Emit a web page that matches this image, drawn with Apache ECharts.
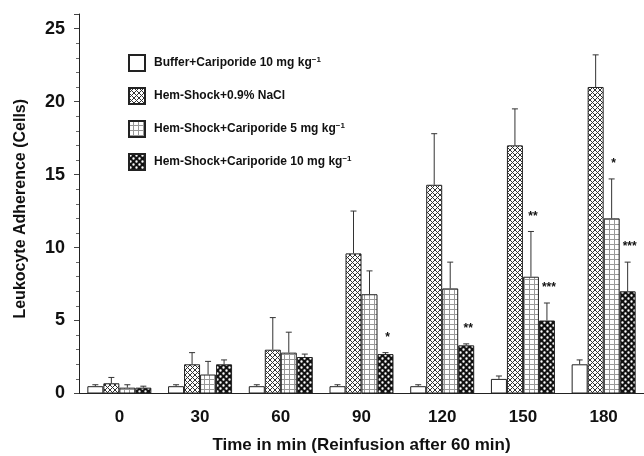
<!DOCTYPE html>
<html>
<head>
<meta charset="utf-8">
<script src="https://cdn.jsdelivr.net/npm/echarts@6/dist/echarts.min.js"></script>
<style>
  html, body { margin: 0; padding: 0; background: #fff; }
  #main { width: 644px; height: 456px; }
</style>
</head>
<body>
<div id="main"></div>
<script>
var categories = ['0', '30', '60', '90', '120', '150', '180'];

var seriesNames = [
  'Buffer+Cariporide 10 mg kg',
  'Hem-Shock+0.9% NaCl',
  'Hem-Shock+Cariporide 5 mg kg',
  'Hem-Shock+Cariporide 10 mg kg'
];

// mean values and top of the error bars
var buffer = [0.5, 0.5, 0.5, 0.5, 0.5, 1.0, 2.0];
var bufferErr = [0.6, 0.6, 0.6, 0.6, 0.6, 1.2, 2.3];
var nacl = [0.7, 2.0, 3.0, 9.6, 14.3, 17.0, 21.0];
var naclErr = [1.1, 2.8, 5.2, 12.5, 17.8, 19.5, 23.2];
var carip5 = [0.4, 1.3, 2.8, 6.8, 7.2, 8.0, 12.0];
var carip5Err = [0.6, 2.2, 4.2, 8.4, 9.0, 11.1, 14.7];
var carip10 = [0.4, 2.0, 2.5, 2.7, 3.3, 5.0, 7.0];
var carip10Err = [0.5, 2.3, 2.7, 2.8, 3.4, 6.2, 9.0];

var sigBuffer = ['', '', '', '', '', '', ''];
var sigNacl = ['', '', '', '', '', '', ''];
var sigCarip5 = ['', '', '', '', '', '**', '*'];
var sigCarip10 = ['', '', '', '*', '**', '***', '***'];

var FONT = 'Liberation Sans';
var BAR_W = 16;

function makePattern(kind) {
  var c = document.createElement('canvas');
  var ctx = c.getContext('2d');
  if (kind === 'white') {
    c.width = 4; c.height = 4;
    ctx.fillStyle = '#fff';
    ctx.fillRect(0, 0, 4, 4);
  } else if (kind === 'cross') {
    c.width = 5; c.height = 5;
    ctx.fillStyle = '#fff';
    ctx.fillRect(0, 0, 5, 5);
    ctx.strokeStyle = '#333';
    ctx.lineWidth = 1;
    ctx.beginPath();
    ctx.moveTo(0, 0); ctx.lineTo(5, 5);
    ctx.moveTo(5, 0); ctx.lineTo(0, 5);
    ctx.stroke();
  } else if (kind === 'grid') {
    c.width = 5; c.height = 5;
    ctx.fillStyle = '#fff';
    ctx.fillRect(0, 0, 5, 5);
    ctx.fillStyle = '#999';
    ctx.fillRect(4, 0, 1, 5);
    ctx.fillRect(0, 4, 5, 1);
  } else {
    c.width = 6; c.height = 6;
    ctx.fillStyle = '#111';
    ctx.fillRect(0, 0, 6, 6);
    ctx.fillStyle = '#fff';
    ctx.beginPath();
    ctx.arc(1.5, 1.5, 1.2, 0, Math.PI * 2);
    ctx.arc(4.5, 4.5, 1.2, 0, Math.PI * 2);
    ctx.fill();
  }
  return { image: c, repeat: 'repeat' };
}

var fills = [makePattern('white'), makePattern('cross'), makePattern('grid'), makePattern('dark')];
var means = [buffer, nacl, carip5, carip10];
var errs = [bufferErr, naclErr, carip5Err, carip10Err];
var sigs = [sigBuffer, sigNacl, sigCarip5, sigCarip10];

function errRender(k) {
  return function (params, api) {
    var i = api.value(0);
    var p0 = api.coord([i, api.value(1)]);
    var p1 = api.coord([i, api.value(2)]);
    var x = p0[0] + (k - 1.5) * BAR_W;
    var children = [
      { type: 'line', shape: { x1: x, y1: p0[1], x2: x, y2: p1[1] },
        style: { stroke: '#333', lineWidth: 1 } },
      { type: 'line', shape: { x1: x - 3, y1: p1[1], x2: x + 3, y2: p1[1] },
        style: { stroke: '#333', lineWidth: 1 } }
    ];
    var s = sigs[k][params.dataIndex];
    if (s) {
      children.push({ type: 'text', x: x + 2, y: p1[1] - 9,
        style: { text: s, fill: '#111', font: 'bold 12px ' + FONT,
          align: 'center', verticalAlign: 'bottom' } });
    }
    return { type: 'group', children: children };
  };
}

var series = [];
for (var k = 0; k < 4; k++) {
  series.push({
    name: seriesNames[k],
    type: 'bar',
    barWidth: BAR_W,
    barGap: '0%',
    itemStyle: { color: fills[k], borderColor: '#222', borderWidth: 1 },
    data: means[k]
  });
}
for (var k2 = 0; k2 < 4; k2++) {
  series.push({
    type: 'custom',
    renderItem: errRender(k2),
    z: 3,
    silent: true,
    data: means[k2].map(function (v, i) { return [i, v, errs[k2][i]]; })
  });
}

var chart = echarts.init(document.getElementById('main'));
chart.setOption({
  backgroundColor: '#fff',
  animation: false,
  grid: { left: 79, right: 0, top: 14, bottom: 62.5, outerBoundsMode: 'none' },
  legend: {
    data: seriesNames,
    orient: 'vertical',
    left: 128,
    top: 54,
    padding: 0,
    icon: 'rect',
    itemWidth: 16,
    itemHeight: 16,
    itemGap: 15,
    selectedMode: false,
    formatter: function (name) {
      return '{a|' + name + '}' + (name.indexOf('mg kg') >= 0 ? '{s|\u22121}' : '');
    },
    textStyle: {
      rich: {
        a: { fontFamily: FONT, fontWeight: 'bold', fontSize: 12, color: '#111', padding: [0, 0, 0, 4] },
        s: { fontFamily: FONT, fontWeight: 'bold', fontSize: 8, color: '#111', padding: [0, 0, 7, 0] }
      }
    }
  },
  xAxis: {
    type: 'category',
    data: categories,
    name: 'Time in min (Reinfusion after 60 min)',
    nameLocation: 'middle',
    nameGap: 43,
    nameTextStyle: { fontFamily: FONT, fontWeight: 'bold', fontSize: 17, color: '#111' },
    axisLine: { lineStyle: { color: '#222', width: 1 } },
    axisTick: { length: 4, lineStyle: { color: '#444' } },
    axisLabel: { fontFamily: FONT, fontWeight: 'bold', fontSize: 17, color: '#111', margin: 15 }
  },
  yAxis: {
    type: 'value',
    min: 0,
    max: 26,
    interval: 5,
    name: 'Leukocyte Adherence (Cells)',
    nameLocation: 'middle',
    nameGap: 50,
    nameTextStyle: { fontFamily: FONT, fontWeight: 'bold', fontSize: 16, color: '#111', padding: [0, 10, 0, 0] },
    splitLine: { show: false },
    axisLine: { show: true, lineStyle: { color: '#222', width: 1 } },
    axisTick: { show: true, length: 5, lineStyle: { color: '#444' } },
    minorTick: { show: true, splitNumber: 5, length: 3, lineStyle: { color: '#666' } },
    axisLabel: { fontFamily: FONT, fontWeight: 'bold', fontSize: 18, color: '#111', margin: 14, showMaxLabel: false }
  },
  series: series
});
</script>
</body>
</html>
